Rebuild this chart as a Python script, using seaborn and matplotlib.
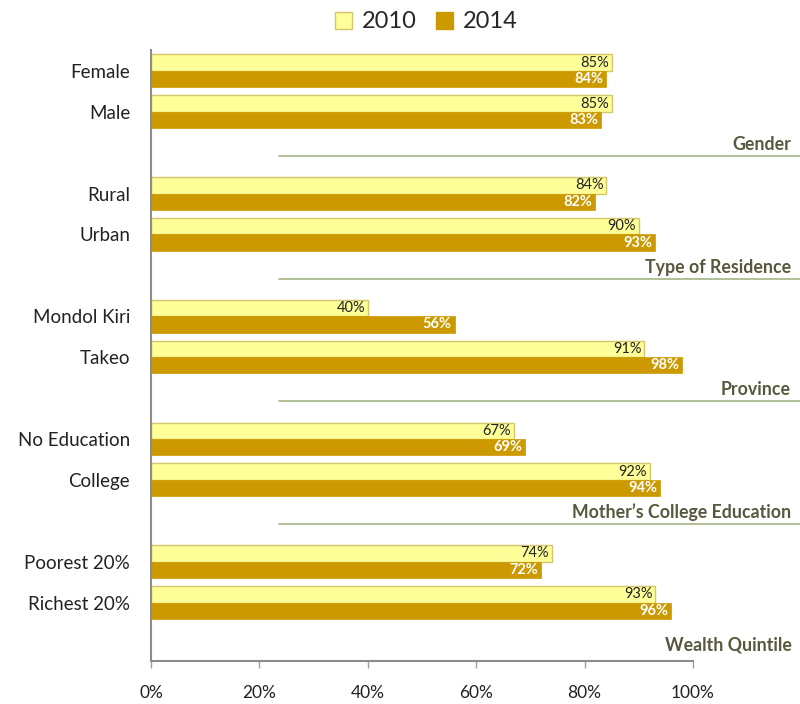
import numpy as np
import pandas as pd
import seaborn as sns
import matplotlib
matplotlib.use("Agg")
import matplotlib.pyplot as plt
from matplotlib.transforms import blended_transform_factory
from matplotlib.lines import Line2D
from matplotlib.patches import Patch

# Categories, grouped; each group is followed by a spacer slot holding its title
categories = ["Female", "Male", "Rural", "Urban", "Mondol Kiri", "Takeo",
              "No Education", "College", "Poorest 20%", "Richest 20%"]
groups = ["Gender", "Type of Residence", "Province",
          "Mother\u2019s College Education", "Wealth Quintile"]
values_2010 = [85, 85, 84, 90, 40, 91, 67, 92, 74, 93]
values_2014 = [84, 83, 82, 93, 56, 98, 69, 94, 72, 96]
years = ["2010", "2014"]
x_ticks = [0, 20, 40, 60, 80, 100]

c2010 = "#FFFF99"
c2010_edge = "#D4C66A"
c2014 = "#CC9900"
text_dark = "#222222"
group_color = "#58583E"
line_color = "#A3B584"

sns.set_theme(style="white")
plt.rcParams["font.family"] = ["Lato", "DejaVu Sans"]

# Build slot order with spacers after each pair of categories
order = []
for i, g in enumerate(groups):
    order += categories[2 * i:2 * i + 2]
    order.append(" " * (i + 1))

df = pd.DataFrame({
    "category": categories * 2,
    "value": values_2010 + values_2014,
    "year": ["2010"] * len(categories) + ["2014"] * len(categories),
})

fig = plt.figure(figsize=(8, 7.04), dpi=100)
ax = fig.add_axes([151 / 800, 1 - 661 / 704, (693 - 151) / 800, (661 - 50) / 704])

sns.barplot(data=df, y="category", x="value", hue="year", order=order,
            hue_order=years, palette=[c2010, c2014], orient="h", width=0.8,
            saturation=1, ax=ax, legend=False)

# Bar edges and value labels placed just inside the bar end
for cont, yr in zip(ax.containers, years):
    for bar, v in zip(cont, cont.datavalues):
        if yr == "2010":
            bar.set_edgecolor(c2010_edge)
            bar.set_linewidth(1.0)
        else:
            bar.set_edgecolor(c2014)
            bar.set_linewidth(0.5)
        ax.annotate(f"{v:.0f}%", xy=(bar.get_width(), bar.get_y() + bar.get_height() / 2),
                    xytext=(-2, 0), textcoords="offset points", ha="right", va="center",
                    fontsize=10.5,
                    color=text_dark if yr == "2010" else "white",
                    fontweight="normal" if yr == "2010" else "bold")

ax.set_xlim(0, 100)
ax.set_ylim(len(order) - 0.57, -0.51)
ax.set_xticks(x_ticks)
ax.set_xticklabels([f"{t}%" for t in x_ticks], fontsize=12.5, color=text_dark)
ax.tick_params(axis="x", direction="out", length=5, width=1, color="#A0A0A0",
               pad=12, bottom=True)
ax.tick_params(axis="y", length=0, pad=15, labelsize=13.5, labelcolor=text_dark)
ax.set_yticks(range(len(order)))
ax.set_yticklabels(order)
ax.set_xlabel("")
ax.set_ylabel("")
ax.grid(False)
for side in ["top", "right"]:
    ax.spines[side].set_visible(False)
for side in ["left", "bottom"]:
    ax.spines[side].set_color("#8C8C8C")
    ax.spines[side].set_linewidth(1.5)

# Group titles and separator rules extending past the plot area
trans = blended_transform_factory(fig.transFigure, ax.transData)
for i, g in enumerate(groups):
    slot = 3 * i + 2
    if i < len(groups) - 1:
        ax.text(791 / 800, slot - 0.2, g, transform=trans, ha="right",
                va="center", fontsize=12.8, fontweight="bold", color=group_color,
                clip_on=False)
        ax.add_line(Line2D([279 / 800, 1.0], [slot + 0.08, slot + 0.08],
                           transform=trans, color=line_color, lw=1.2,
                           clip_on=False))
    else:
        ax.text(792 / 800, slot + 0.03, g, transform=trans, ha="right",
                va="center", fontsize=12.8, fontweight="bold", color=group_color,
                clip_on=False)

# Legend at the top
handles = [Patch(facecolor=c2010, edgecolor=c2010_edge, label="2010"),
           Patch(facecolor=c2014, edgecolor=c2014, label="2014")]
fig.legend(handles=handles, loc="center", bbox_to_anchor=(426 / 800, 1 - 22 / 704),
           ncol=2, frameon=False, fontsize=17, handlelength=0.75, handleheight=0.75,
           handletextpad=0.4, columnspacing=0.8)

fig.savefig("out.png", dpi=100)
